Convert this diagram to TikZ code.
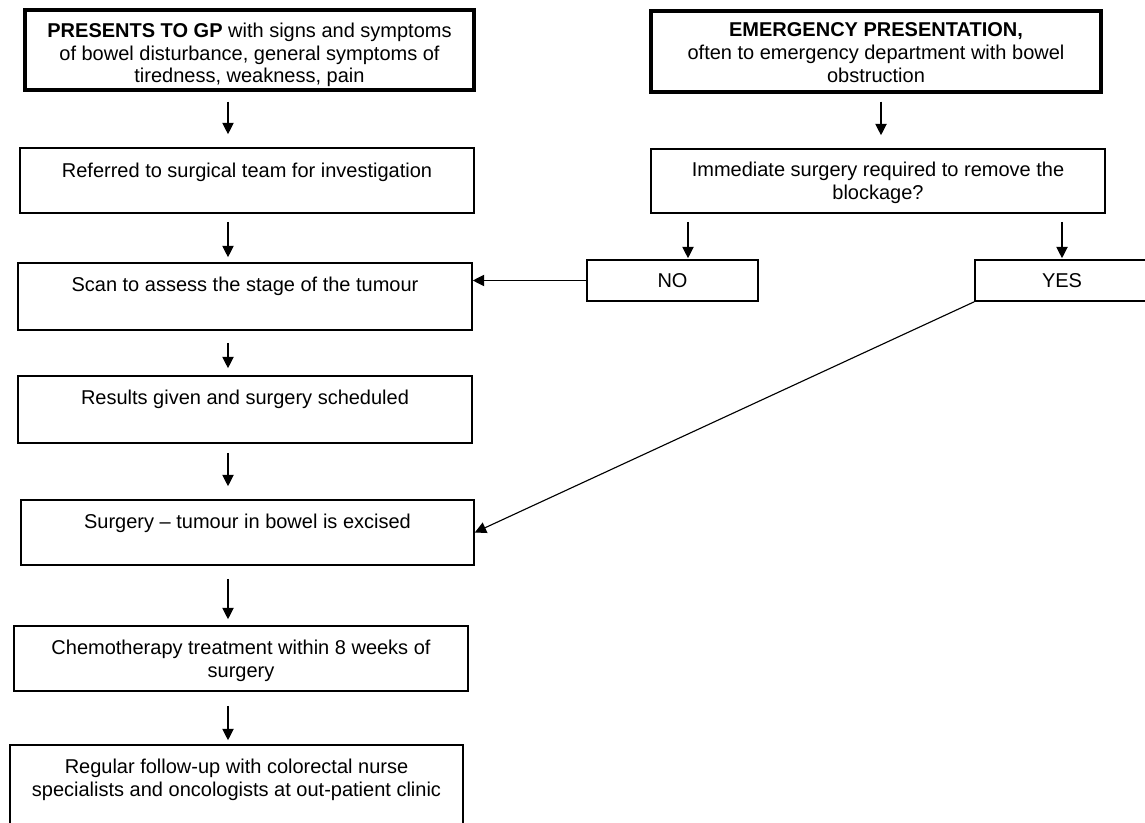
\documentclass[tikz,border=0pt]{standalone}
\usepackage{fontspec}
\setmainfont{Liberation Sans}
\usetikzlibrary{arrows.meta,calc}
\begin{document}
\begin{tikzpicture}[x=0.75pt,y=-0.75pt,
  font=\fontsize{15pt}{17.1pt}\selectfont,
  box/.style={draw, line width=1.2pt, inner sep=0pt},
  heavybox/.style={draw, line width=2.3pt, inner sep=0pt},
  bsize/.style n args={2}{minimum width={#1*0.75pt}, minimum height={#2*0.75pt}},
  txt/.style={align=center, inner sep=0pt, anchor=north},
  arr/.style={line width=0.85pt, -{Triangle[length=8.5pt, width=8.5pt]}}]
\useasboundingbox (0,0) rectangle (1145,823);
\clip (0,0) rectangle (1145,823);
\fill[white] (0,0) rectangle (1145,823);

% left column boxes
\node[heavybox, bsize={449}{80}] (gp) at (249.5,50) {};
\node[box, bsize={454}{65}] (ref) at (247,180.5) {};
\node[box, bsize={454}{67}] (scan) at (245,296.5) {};
\node[box, bsize={454}{67}] (res) at (245,409.5) {};
\node[box, bsize={453}{65}] (surg) at (247.5,532.5) {};
\node[box, bsize={454}{65}] (chemo) at (241,658.5) {};
\node[box, bsize={453}{95}] (fol) at (236.5,792.5) {};

% right column boxes
\node[heavybox, bsize={450}{81}] (em) at (876,51.5) {};
\node[box, bsize={454}{64}] (q) at (878,181) {};
\node[box, bsize={171}{41}] (no) at (672.5,280.5) {NO};
\node[box, bsize={174}{41}] (yes) at (1062,280.5) {YES};

% texts
\node[txt] (gpt) at ($(gp.north)+(0,14)$) {\textbf{PRESENTS TO GP} with signs and symptoms\\of bowel disturbance, general symptoms of\\tiredness, weakness, pain};
\node[txt] (reft) at ($(ref.north)+(0,16)$) {Referred to surgical team for investigation};
\node[txt] (scant) at ($(scan.north)+(0,15)$) {Scan to assess the stage of the tumour};
\node[txt] (rest) at ($(res.north)+(0,15)$) {Results given and surgery scheduled};
\node[txt] (surgt) at ($(surg.north)+(0,15)$) {Surgery -- tumour in bowel is excised};
\node[txt] (chemot) at ($(chemo.north)+(0,15)$) {Chemotherapy treatment within 8 weeks of\\surgery};
\node[txt] (folt) at ($(fol.north)+(0,15)$) {Regular follow-up with colorectal nurse\\specialists and oncologists at out-patient clinic};
\node[txt] (emt) at ($(em.north)+(0,13)$) {\textbf{EMERGENCY PRESENTATION,}\\often to emergency department with bowel\\obstruction};
\node[txt] (qt) at ($(q.north)+(0,14)$) {Immediate surgery required to remove the\\blockage?};

% arrow columns
\coordinate (lx) at (228,0);
\coordinate (rx) at (881,0);
\coordinate (nx) at (688,0);
\coordinate (yx) at (1062,0);

% left arrows
\draw[arr] ($(gp.south -| lx)+(0,10)$) -- ($(ref.north -| lx)+(0,-13)$);
\draw[arr] ($(ref.south -| lx)+(0,8)$) -- ($(scan.north -| lx)+(0,-5)$);
\draw[arr] ($(scan.south -| lx)+(0,12)$) -- ($(res.north -| lx)+(0,-7)$);
\draw[arr] ($(res.south -| lx)+(0,9)$) -- ($(surg.north -| lx)+(0,-13)$);
\draw[arr] ($(surg.south -| lx)+(0,13)$) -- ($(chemo.north -| lx)+(0,-6)$);
\draw[arr] ($(chemo.south -| lx)+(0,14)$) -- ($(fol.north -| lx)+(0,-4)$);

% right arrows
\draw[arr] ($(em.south -| rx)+(0,8)$) -- ($(q.north -| rx)+(0,-13)$);
\draw[arr] ($(q.south -| nx)+(0,8)$) -- ($(no.north -| nx)+(0,-1)$);
\draw[arr] ($(q.south -| yx)+(0,8)$) -- ($(yes.north -| yx)+(0,-1)$);

% cross connectors
\draw[arr] (no.west) -- (no.west -| scan.east);
\draw[arr] (yes.south west) -- (surg.east);
\end{tikzpicture}
\end{document}
